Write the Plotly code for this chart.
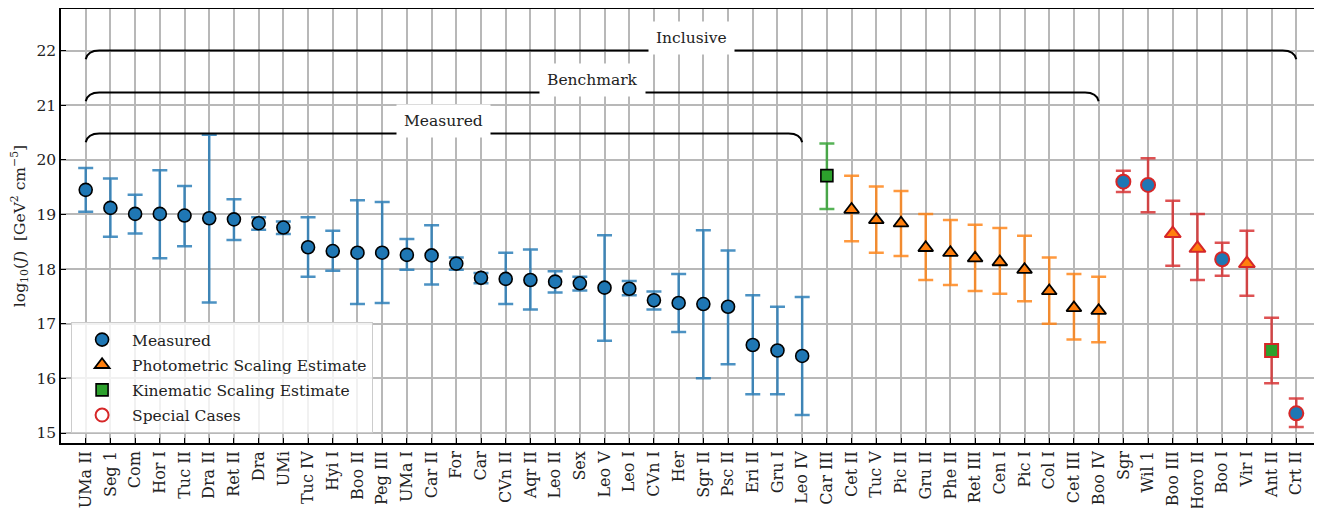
import plotly.graph_objects as go

# ---------------- data ----------------
measured_names = ["UMa II", "Seg 1", "Com", "Hor I", "Tuc II", "Dra II", "Ret II", "Dra", "UMi",
                  "Tuc IV", "Hyi I", "Boo II", "Peg III", "UMa I", "Car II", "For", "Car", "CVn II",
                  "Aqr II", "Leo II", "Sex", "Leo V", "Leo I", "CVn I", "Her", "Sgr II", "Psc II",
                  "Eri II", "Gru I", "Leo IV"]
measured_val = [19.45, 19.12, 19.01, 19.01, 18.98, 18.93, 18.91, 18.84, 18.76,
                18.40, 18.33, 18.30, 18.30, 18.26, 18.25, 18.10, 17.84, 17.82,
                17.80, 17.77, 17.74, 17.66, 17.64, 17.43, 17.38, 17.36, 17.31,
                16.61, 16.51, 16.41]
measured_hi = [19.85, 19.66, 19.36, 19.81, 19.52, 20.46, 19.28, 18.95, 18.87,
               18.95, 18.70, 19.26, 19.23, 18.55, 18.80, 18.21, 17.93, 18.30,
               18.36, 17.96, 17.86, 18.62, 17.78, 17.59, 17.91, 18.71, 18.34,
               17.52, 17.31, 17.49]
measured_lo = [19.05, 18.59, 18.65, 18.20, 18.42, 17.39, 18.53, 18.72, 18.64,
               17.86, 17.97, 17.36, 17.38, 17.99, 17.72, 17.99, 17.74, 17.36,
               17.26, 17.57, 17.61, 16.69, 17.52, 17.26, 16.85, 16.00, 16.26,
               15.71, 15.71, 15.33]

kinematic_names = ["Car III"]
kinematic_val = [19.71]
kinematic_hi = [20.30]
kinematic_lo = [19.10]

photometric_names = ["Cet II", "Tuc V", "Pic II", "Gru II", "Phe II", "Ret III", "Cen I",
                     "Pic I", "Col I", "Cet III", "Boo IV"]
photometric_val = [19.09, 18.90, 18.84, 18.39, 18.30, 18.20, 18.13, 17.99, 17.60, 17.29, 17.24]
photometric_hi = [19.71, 19.51, 19.43, 19.01, 18.90, 18.81, 18.75, 18.61, 18.21, 17.91, 17.86]
photometric_lo = [18.51, 18.30, 18.24, 17.80, 17.71, 17.60, 17.55, 17.41, 17.00, 16.71, 16.66]

special_names = ["Sgr", "Wil 1", "Boo III", "Horo II", "Boo I", "Vir I", "Ant II", "Crt II"]
special_val = [19.60, 19.54, 18.65, 18.38, 18.18, 18.10, 16.51, 15.36]
special_hi = [19.80, 20.03, 19.25, 19.01, 18.48, 18.70, 17.11, 15.63]
special_lo = [19.41, 19.04, 18.06, 17.80, 17.88, 17.51, 15.91, 15.11]
special_kind = ["Measured", "Measured", "Photometric", "Photometric", "Measured",
                "Photometric", "Kinematic", "Measured"]

# brackets: (label, first category, last category, level)
brackets = [("Inclusive", "UMa II", "Crt II", 22.0),
            ("Benchmark", "UMa II", "Boo IV", 21.23),
            ("Measured", "UMa II", "Leo IV", 20.48)]

y_ticks = [15, 16, 17, 18, 19, 20, 21, 22]

# ---------------- styling ----------------
categories = measured_names + kinematic_names + photometric_names + special_names
pos = {n: i for i, n in enumerate(categories)}

C_BLUE = "#1f77b4"
C_ORANGE = "#ff7f0e"
C_GREEN = "#2ca02c"
C_RED = "#d62728"
FONT = "DejaVu Serif"
FS = 15.5

kind_symbol = {"Measured": "circle", "Photometric": "triangle-up", "Kinematic": "square"}
kind_color = {"Measured": C_BLUE, "Photometric": C_ORANGE, "Kinematic": C_GREEN}
kind_size = {"Measured": 14, "Photometric": 14, "Kinematic": 13}


def err(val, hi, lo, rgba):
    return dict(type="data", symmetric=False,
                array=[h - v for h, v in zip(hi, val)],
                arrayminus=[v - l for v, l in zip(val, lo)],
                color=rgba, thickness=2.5, width=7.5)


fig = go.Figure()

groups = [
    (measured_names, measured_val, measured_hi, measured_lo, "rgba(31,119,180,0.8)"),
    (photometric_names, photometric_val, photometric_hi, photometric_lo, "rgba(255,127,14,0.8)"),
    (kinematic_names, kinematic_val, kinematic_hi, kinematic_lo, "rgba(44,160,44,0.8)"),
    (special_names, special_val, special_hi, special_lo, "rgba(214,39,40,0.8)"),
]
# error bars first (drawn beneath the markers)
for names, val, hi, lo, rgba in groups:
    fig.add_trace(go.Scatter(
        x=[pos[n] for n in names], y=val, mode="markers", showlegend=False,
        hoverinfo="skip", marker=dict(size=1, opacity=0),
        error_y=err(val, hi, lo, rgba)))

fig.add_trace(go.Scatter(
    x=[pos[n] for n in measured_names], y=measured_val, mode="markers",
    name="Measured", legendrank=1, legendgroup="g1",
    marker=dict(symbol="circle", size=13, color=C_BLUE, opacity=1,
                line=dict(color="black", width=1.6))))

fig.add_trace(go.Scatter(
    x=[pos[n] for n in photometric_names], y=photometric_val, mode="markers",
    name="Photometric Scaling Estimate", legendrank=2, legendgroup="g2",
    marker=dict(symbol="triangle-up", size=13, color=C_ORANGE, opacity=1,
                line=dict(color="black", width=1.8))))

fig.add_trace(go.Scatter(
    x=[pos[n] for n in kinematic_names], y=kinematic_val, mode="markers",
    name="Kinematic Scaling Estimate", legendrank=3, legendgroup="g3",
    marker=dict(symbol="square", size=12, color=C_GREEN, opacity=1,
                line=dict(color="black", width=1.6))))

fig.add_trace(go.Scatter(
    x=[pos[n] for n in special_names], y=special_val, mode="markers",
    showlegend=False,
    marker=dict(symbol=[kind_symbol[k] for k in special_kind],
                size=[kind_size[k] for k in special_kind],
                color=[kind_color[k] for k in special_kind], opacity=1,
                line=dict(color=C_RED, width=2))))

# legend-only entry for special cases
fig.add_trace(go.Scatter(
    x=[None], y=[None], mode="markers", name="Special Cases", legendrank=4, legendgroup="g4",
    marker=dict(symbol="circle", size=13, color="white", line=dict(color=C_RED, width=2))))

# brackets
drop, hcurve = 0.16, 0.55
for label, a_name, b_name, lev in brackets:
    a, b = pos[a_name], pos[b_name]
    path = (f"M {a},{lev - drop} Q {a + 0.08},{lev} {a + hcurve},{lev} "
            f"L {b - hcurve},{lev} Q {b - 0.08},{lev} {b},{lev - drop}")
    fig.add_shape(type="path", path=path, xref="x", yref="y",
                  line=dict(color="black", width=2), layer="above")
    fig.add_annotation(x=(a + b) / 2, y=lev, xref="x", yref="y", text=label,
                       showarrow=False, yshift=13, bgcolor="white", borderpad=7,
                       font=dict(family=FONT, size=FS, color="#222"))

# the page body adds an 8px offset; margins compensate so the plot sits where the reference has it
fig.update_layout(
    width=1322, height=508,
    margin=dict(l=53, r=9, t=1, b=73),
    paper_bgcolor="white", plot_bgcolor="white",
    font=dict(family=FONT, size=FS, color="#222"),
    showlegend=True,
    legend=dict(x=0.008, y=0.023, xanchor="left", yanchor="bottom",
                bgcolor="rgba(255,255,255,0.8)", bordercolor="#cccccc", borderwidth=1,
                font=dict(family=FONT, size=FS, color="#222"),
                traceorder="grouped", tracegroupgap=2, itemwidth=50),
)

fig.update_xaxes(
    range=[-1, len(categories)], tickmode="array",
    tickvals=list(range(len(categories))), ticktext=categories, tickangle=-90,
    showgrid=True, gridcolor="#b8b8b8", gridwidth=1.5,
    showline=True, linecolor="black", linewidth=1.5, mirror=True,
    ticks="inside", ticklen=5, tickwidth=1.3, tickcolor="black",
    zeroline=False, automargin=False, ticklabelstandoff=0,
    tickfont=dict(family=FONT, size=16, color="#222"))

fig.update_yaxes(
    range=[14.817, 22.76], tickmode="array", tickvals=y_ticks,
    showgrid=True, gridcolor="#b8b8b8", gridwidth=1.5,
    showline=True, linecolor="black", linewidth=1.5, mirror="ticks",
    ticks="inside", ticklen=5, tickwidth=1.3, tickcolor="black",
    zeroline=False, automargin=False,
    tickfont=dict(family=FONT, size=FS, color="#222"),
    title=dict(text="log<sub>10</sub>(<i>J</i>)  [GeV<sup>2</sup> cm<sup>−5</sup>]",
               font=dict(family=FONT, size=FS, color="#222"), standoff=14))

fig.write_html("out.html")
